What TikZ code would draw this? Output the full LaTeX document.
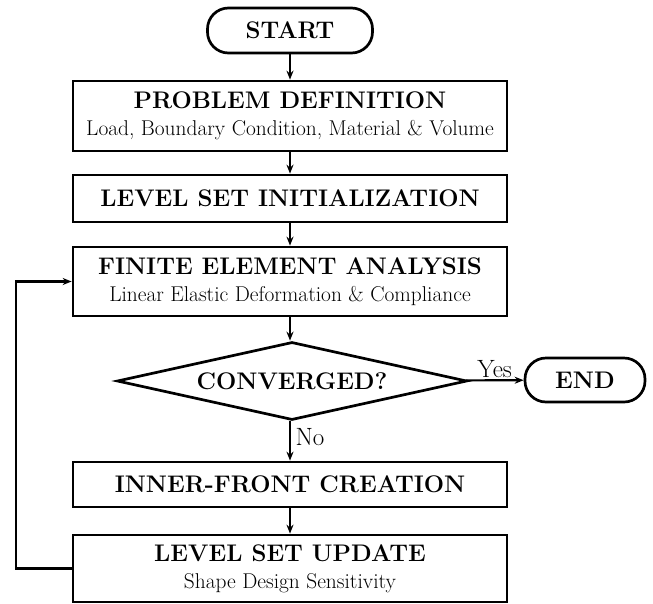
\documentclass[tikz,border=0pt]{standalone}
\usepackage{fontspec}
\usetikzlibrary{shapes.geometric,arrows.meta}
\newcommand{\ttlf}{\fontsize{24}{27}\selectfont\bfseries}
\newcommand{\subf}{\fontsize{21.4}{27}\selectfont\mdseries}
\newcommand{\lblf}{\fontsize{25}{28}\selectfont\mdseries}
\begin{document}
\begin{tikzpicture}[x=1pt,y=-1pt,
  box/.style={draw, line width=2.7pt, minimum width=434pt, inner sep=0pt, align=center, font=\ttlf},
  term/.style={draw, line width=2.7pt, rounded corners=21pt, inner sep=0pt, font=\ttlf},
  dec/.style={draw, line width=2.7pt, diamond, aspect=4.5, minimum width=350pt, minimum height=78pt, inner sep=0pt, font=\ttlf},
  conn/.style={line width=2.2pt, -{Stealth[length=9pt,width=7pt]}},
  lbl/.style={font=\lblf, inner sep=1.5pt}]
\useasboundingbox (0,0) rectangle (653,603);
\node[term, minimum width=165pt, minimum height=45pt] (start) at (290,30.5) {START};
\node[box, minimum height=70pt] (prob) at (290,116) {PROBLEM DEFINITION\\{\subf Load, Boundary Condition, Material \& Volume}};
\node[box, minimum height=47pt] (init) at (290,198.5) {LEVEL SET INITIALIZATION};
\node[box, minimum height=69pt] (fea) at (290,281.5) {FINITE ELEMENT ANALYSIS\\{\subf Linear Elastic Deformation \& Compliance}};
\node[dec] (conv) at (292,381) {CONVERGED?};
\node[term, minimum width=120pt, minimum height=44pt] (end) at (585,380) {END};
\node[box, minimum height=45pt] (inner) at (290,484.5) {INNER-FRONT CREATION};
\node[box, minimum height=67pt] (upd) at (290,568.5) {LEVEL SET UPDATE\\{\subf Shape Design Sensitivity}};
\coordinate (bl) at (16,568.5);
\coordinate (tl) at (16,281.5);
\draw[conn] (start) -- (prob);
\draw[conn] (prob) -- (init);
\draw[conn] (init) -- (fea);
\draw[conn] (fea.south) -- (fea.south |- conv.north);
\draw[conn] (conv) -- node[lbl, above] {Yes} (end);
\draw[conn] (conv.south -| inner.north) -- node[lbl, right, pos=0.4, xshift=3pt] {No} (inner);
\draw[conn] (inner) -- (upd);
\draw[conn] (upd.west) -- (bl) -- (tl) -- (fea.west);
\end{tikzpicture}
\end{document}
